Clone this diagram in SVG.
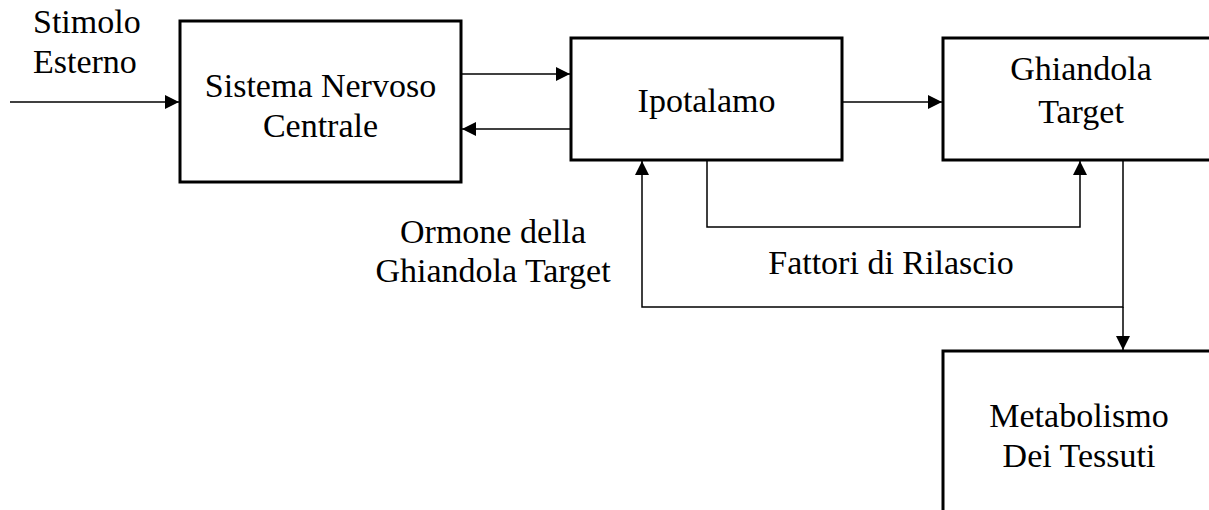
<svg xmlns="http://www.w3.org/2000/svg" width="1209" height="510" viewBox="0 0 1209 510">
  <style>
    .box { fill: #ffffff; stroke: #000000; stroke-width: 3; }
    .lbl { font-family: "Liberation Serif", "Times New Roman", serif; font-size: 34px; fill: #000000; text-anchor: middle; }
    .lbl-start { text-anchor: start; }
    .wire { fill: none; stroke: #000000; stroke-width: 1.5; }
  </style>
  <defs>
    <marker id="arrow" markerUnits="userSpaceOnUse" markerWidth="14" markerHeight="14" refX="14" refY="7" orient="auto">
      <path d="M0,0 L14,7 L0,14 z" fill="#000000"/>
    </marker>
  </defs>
  <rect width="1209" height="510" fill="#ffffff"/>

  <!-- connectors -->
  <g id="connectors">
    <path class="wire" d="M10,102 H179" marker-end="url(#arrow)"/>
    <path class="wire" d="M462,74 H570" marker-end="url(#arrow)"/>
    <path class="wire" d="M571,129 H462" marker-end="url(#arrow)"/>
    <path class="wire" d="M843,102 H942" marker-end="url(#arrow)"/>
    <path class="wire" d="M707,161 V227 H1080 V161" marker-end="url(#arrow)"/>
    <path class="wire" d="M1123,161 V307 H642 V161" marker-end="url(#arrow)"/>
    <path class="wire" d="M1123,307 V350" marker-end="url(#arrow)"/>
  </g>

  <!-- free labels -->
  <g id="label-stimolo">
    <text class="lbl lbl-start" x="33" y="33">Stimolo</text>
    <text class="lbl lbl-start" x="33" y="73">Esterno</text>
  </g>
  <g id="label-ormone">
    <text class="lbl" x="493" y="243">Ormone della</text>
    <text class="lbl" x="493" y="282">Ghiandola Target</text>
  </g>
  <g id="label-fattori">
    <text class="lbl" x="891" y="274">Fattori di Rilascio</text>
  </g>

  <!-- nodes -->
  <g id="node-snc">
    <rect class="box" x="180" y="21" width="281" height="161"/>
    <text class="lbl" x="320.5" y="97">Sistema Nervoso</text>
    <text class="lbl" x="320.5" y="137">Centrale</text>
  </g>
  <g id="node-ipotalamo">
    <rect class="box" x="571" y="38" width="271" height="122"/>
    <text class="lbl" x="706.5" y="112">Ipotalamo</text>
  </g>
  <g id="node-ghiandola">
    <rect class="box" x="943" y="38" width="276" height="122"/>
    <text class="lbl" x="1081" y="80">Ghiandola</text>
    <text class="lbl" x="1081" y="123">Target</text>
  </g>
  <g id="node-metabolismo">
    <rect class="box" x="943" y="351" width="276" height="200"/>
    <text class="lbl" x="1079" y="427">Metabolismo</text>
    <text class="lbl" x="1079" y="467">Dei Tessuti</text>
  </g>
</svg>
